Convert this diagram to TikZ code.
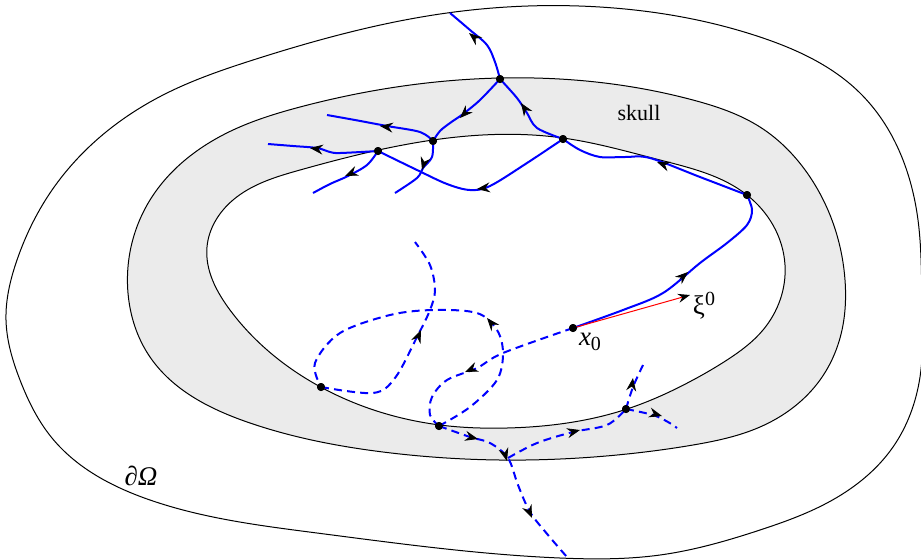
\documentclass[tikz,border=0pt]{standalone}
\usepackage{fontspec}
\setmainfont{Liberation Serif}
\usetikzlibrary{arrows.meta, hobby}
\tikzset{
  bl/.style={blue, line width=1pt},
  bld/.style={blue, line width=1pt, dash pattern=on 4pt off 2.6pt},
  tiparr/.style={black, line width=0.4pt, -{Stealth[length=6.5pt,width=5pt,inset=2.2pt]}},
  dot/.style={circle, fill=black, inner sep=0pt, minimum size=4pt},
  bnd/.style={black, line width=0.5pt},
  sm/.style={smooth, tension=0.55},
}
\newcommand\tipat[2]{\draw[tiparr] #2 -- #1;}
\begin{document}
\begin{tikzpicture}[x=0.5pt, y=-0.5pt]
\useasboundingbox (0,0) rectangle (921,559);
% outer boundary
\draw[bnd] plot[closed hobby] coordinates {(6,320) (17,260) (50,193) (100,137) (167,93) (253,60) (447,13) (600,7) (760,37) (860,93) (918,220) (922,300) (920,377) (893,447) (827,503) (760,530) (660,555) (560,558) (317,533) (150,500) (52,438) (20,380)};
% skull
\filldraw[bnd, fill=black!8] plot[closed hobby] coordinates {(128,293) (150,200) (233,130) (300,107) (500,78) (693,100) (760,127) (810,177) (845,280) (842,330) (820,380) (760,427) (693,445) (627,454) (500,460) (383,452) (250,423) (150,357)};
\filldraw[bnd, fill=white] plot[closed hobby] coordinates {(207,247) (233,200) (300,170) (433,140) (563,138) (660,160) (747,195) (785,265) (763,330) (727,360) (693,380) (627,409) (507,428) (440,425) (317,385) (230,310)};
% nodes
\node[dot] (P1) at (500,79) {};
\node[dot] (P2) at (433,141) {};
\node[dot] (P3) at (378,151) {};
\node[dot] (P4) at (563,139) {};
\node[dot] (P5) at (747,195) {};
\node[dot] (X0) at (573,328) {};
\node[dot] (D1) at (321,387) {};
\node[dot] (D2) at (439,426) {};
\node[dot] (D3) at (626,409) {};
\coordinate (J) at (508,458);
\coordinate (T) at (450,13);
\coordinate (E6) at (327,115);
\coordinate (E7) at (395,193);
\coordinate (E8) at (268,144);
\coordinate (E9) at (313,193);
\coordinate (F1) at (415,242);
\coordinate (F2) at (567,557);
\coordinate (F3) at (643,365);
\coordinate (F4) at (677,428);
\coordinate (XI) at (690,295);
% solid blue rays
\draw[bl] plot[sm] coordinates {(X0.center) (623,310) (663,293) (700,263) (727,243) (747,225) (752,210) (P5.center)};
\draw[bl] plot[sm] coordinates {(P5.center) (700,177) (650,158) (625,157) (600,157) (580,150) (P4.center)};
\draw[bl] plot[sm] coordinates {(P4.center) (537,128) (527,113) (517,98) (P1.center)};
\draw[bl] plot[sm] coordinates {(P1.center) (495,62) (487,45) (470,30) (T)};
\draw[bl] plot[sm] coordinates {(P1.center) (480,100) (463,114) (450,123) (440,131) (P2.center)};
\draw[bl] plot[sm] coordinates {(P2.center) (420,132) (387,126) (355,120) (E6)};
\draw[bl] plot[sm] coordinates {(P2.center) (432,157) (423,168) (417,178) (E7)};
\draw[bl] plot[sm] coordinates {(P3.center) (340,153) (330,152) (317,148) (293,146) (E8)};
\draw[bl] plot[sm] coordinates {(P3.center) (367,165) (348,176) (330,184) (E9)};
\draw[bl] plot[sm] coordinates {(P4.center) (527,163) (490,186) (470,190) (447,184) (417,170) (P3.center)};
% dashed blue rays
\draw[bld] plot[sm] coordinates {(X0.center) (503,353) (477,368) (447,380) (432,397) (430,415) (D2.center)};
\draw[bld] plot[sm] coordinates {(D2.center) (470,407) (497,380) (503,353) (497,330) (477,313) (433,310) (390,315) (340,333) (315,363) (D1.center)};
\draw[bld] plot[sm] coordinates {(D1.center) (373,393) (395,378) (417,337) (430,310) (435,290) (430,265) (F1)};
\draw[bld] plot[sm] coordinates {(D2.center) (470,437) (490,443) (J) (518,485) (530,512) (548,535) (F2)};
\draw[bld] plot[sm] coordinates {(J) (537,443) (573,432) (607,425) (D3.center)};
\draw[bld] plot[sm] coordinates {(D3.center) (633,387) (F3)};
\draw[bld] plot[sm] coordinates {(D3.center) (653,415) (668,422) (F4)};
% arrow heads along the rays
\tipat{(688,272)}{(680,279)}
\tipat{(657,162)}{(665,165)}
\tipat{(521,103)}{(525,109)}
\tipat{(469,33)}{(475,38)}
\tipat{(460,118)}{(466,112)}
\tipat{(380,126)}{(388,127)}
\tipat{(422,170)}{(424,163)}
\tipat{(310,148)}{(318,149)}
\tipat{(345,176)}{(352,173)}
\tipat{(477,189)}{(485,188)}
\tipat{(465,372)}{(472,369)}
\tipat{(487,318)}{(492,324)}
\tipat{(421,330)}{(418,337)}
\tipat{(478,439)}{(470,437)}
\tipat{(507,461)}{(505,454)}
\tipat{(532,518)}{(529,511)}
\tipat{(580,430)}{(572,432)}
\tipat{(633,378)}{(632,385)}
\tipat{(662,416)}{(655,414)}
% red direction
\draw[red, line width=0.5pt, -{Stealth[black,length=6pt,width=4.5pt,inset=2pt]}] (X0.center) -- (XI);
% dots on top
\foreach \n in {P1,P2,P3,P4,P5,X0,D1,D2,D3} \fill (\n.center) circle (2pt);
% labels
\node[font=\fontsize{11}{13}\selectfont] (skull) at (639,113) {skull};
\node[font=\fontsize{13.5}{15}\selectfont] (lx0) at (590,342) {\textit{x}\raisebox{-0.45ex}{\fontsize{10}{12}\selectfont 0}};
\node[font=\fontsize{13.5}{15}\selectfont] (lxi) at (704,306) {ξ\raisebox{0.75ex}{\fontsize{10}{12}\selectfont 0}};
\node[font=\fontsize{13.5}{15}\selectfont] (lom) at (141,476) {\textit{∂Ω}};
\end{tikzpicture}
\end{document}
